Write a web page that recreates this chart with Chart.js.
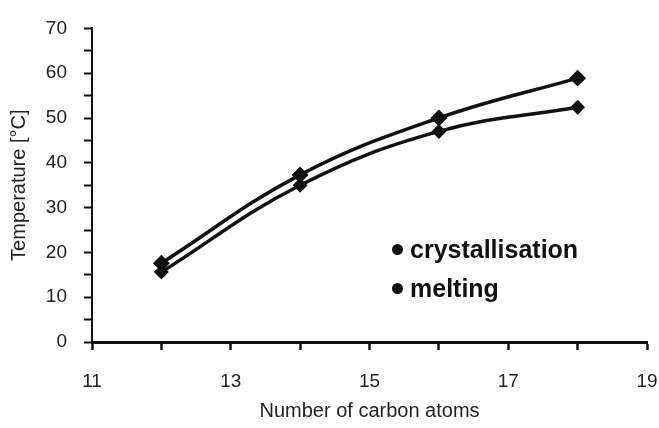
<!DOCTYPE html>
<html>
<head>
<meta charset="utf-8">
<script src="https://cdn.jsdelivr.net/npm/chart.js@4/dist/chart.umd.min.js"></script>
<style>
  html, body { margin: 0; padding: 0; background: #fff; }
  #wrap { position: relative; width: 659px; height: 428px; }
  .lg { position: absolute; font: bold 25px "Liberation Sans", Arial, sans-serif; color: #111; white-space: nowrap; line-height: 30px; }
  .lg span.m { display: inline-block; width: 11px; height: 11px; border-radius: 50%; background: #111; margin-right: 7px; vertical-align: 3px; }
</style>
</head>
<body>
<div id="wrap">
  <canvas id="canvas" width="659" height="428"></canvas>
  <div class="lg" style="left:392px; top:234px;"><span class="m"></span>crystallisation</div>
  <div class="lg" style="left:392px; top:273px;"><span class="m"></span>melting</div>
</div>
<script>
// values
const carbonAtoms = [12, 14, 16, 18];
const crystallisation = [17.6, 37.3, 50, 58.9];
const melting = [15.6, 35, 47, 52.4];

const ink = "#111";

function toPoints(ys) {
  return carbonAtoms.map((x, i) => ({ x, y: ys[i] }));
}

const tickFont = { family: "'Liberation Sans', Arial, sans-serif", size: 19 };
const titleFont = { family: "'Liberation Sans', Arial, sans-serif", size: 20 };

new Chart(document.getElementById("canvas").getContext("2d"), {
  type: "line",
  data: {
    datasets: [
      {
        label: "crystallisation",
        data: toPoints(crystallisation),
        borderColor: ink,
        backgroundColor: ink,
        borderWidth: 3.5,
        pointStyle: "rectRot",
        pointRadius: 6,
        tension: 0.4,
      },
      {
        label: "melting",
        data: toPoints(melting),
        borderColor: ink,
        backgroundColor: ink,
        borderWidth: 3.5,
        pointStyle: "rectRot",
        pointRadius: 5,
        tension: 0.4,
      },
    ],
  },
  options: {
    responsive: false,
    animation: false,
    layout: { padding: { top: 20, right: 12, left: 0, bottom: 0 } },
    plugins: { legend: { display: false }, tooltip: { enabled: false } },
    scales: {
      x: {
        type: "linear",
        min: 11,
        max: 19,
        afterFit(scale) {
          scale.height = 86;
          scale.paddingRight = 0;
          scale.paddingLeft = 0;
        },
        border: { color: ink, width: 3 },
        grid: {
          drawOnChartArea: false,
          tickLength: 8,
          tickWidth: 2.5,
          tickColor: ink,
        },
        ticks: {
          stepSize: 1,
          color: "#222",
          font: tickFont,
          padding: 20,
          maxRotation: 0,
          autoSkip: false,
          callback: (v) => (v % 2 === 1 ? v : ""),
        },
        title: {
          display: true,
          text: "Number of carbon atoms",
          color: "#222",
          font: titleFont,
          padding: { top: 0, bottom: 5 },
        },
      },
      y: {
        min: 0,
        max: 70,
        afterFit(scale) { scale.width = 92; },
        border: { color: ink, width: 2 },
        grid: {
          drawOnChartArea: false,
          tickLength: 8,
          tickWidth: 2,
          tickColor: ink,
        },
        ticks: {
          stepSize: 5,
          color: "#222",
          font: tickFont,
          padding: 17,
          autoSkip: false,
          callback: (v) => (v % 10 === 0 ? v : ""),
        },
        title: {
          display: true,
          text: "Temperature [°C]",
          color: "#222",
          font: titleFont,
          padding: { top: 7, bottom: 0 },
        },
      },
    },
  },
});
</script>
</body>
</html>
